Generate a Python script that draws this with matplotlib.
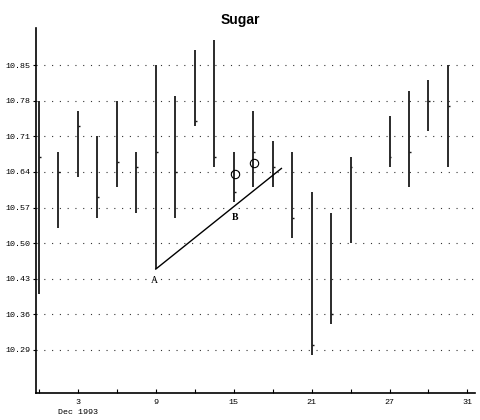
import matplotlib.pyplot as plt

# trading-day index (Dec 1993), gaps at 24 and 31
day_idx = [0, 1, 2, 3, 4, 5, 6, 7, 8, 9, 10, 11, 12, 13, 14, 15, 16, 18, 19, 20, 21]
highs = [10.78, 10.68, 10.76, 10.71, 10.78, 10.68, 10.85, 10.79, 10.88, 10.90, 10.68,
         10.76, 10.70, 10.68, 10.60, 10.56, 10.67, 10.75, 10.80, 10.82, 10.85]
lows = [10.40, 10.53, 10.63, 10.55, 10.61, 10.56, 10.45, 10.55, 10.73, 10.65, 10.58,
        10.61, 10.61, 10.51, 10.28, 10.34, 10.50, 10.65, 10.61, 10.72, 10.65]
closes = [10.67, 10.64, 10.73, 10.59, 10.66, 10.65, 10.68, 10.64, 10.74, 10.67, 10.60,
          10.68, 10.65, 10.55, 10.30, 10.36, 10.65, 10.67, 10.68, 10.78, 10.77]

tick_idx = [2, 6, 10, 14, 18, 22]
tick_labels = ["3", "9", "15", "21", "27", "31"]
y_ticks = [10.29, 10.36, 10.43, 10.50, 10.57, 10.64, 10.71, 10.78, 10.85]

trend_x = [6, 12.45]
trend_y = [10.449, 10.647]
circle_x = [10.05, 11.05]
circle_y = [10.637, 10.658]

fig = plt.figure(figsize=(4.8, 4.2), dpi=100)
ax = fig.add_axes([0.075, 0.064, 0.915, 0.869])

ax.vlines(day_idx, lows, highs, color="#1a1a1a", lw=1.3)
ax.hlines(closes, day_idx, [d + 0.1 for d in day_idx], color="#1a1a1a", lw=1.0)

ax.plot(trend_x, trend_y, color="black", lw=1.0)
ax.plot(circle_x, circle_y, "o", mfc="none", mec="black", ms=6, mew=0.8)
ax.text(5.95, 10.426, "A", family="Liberation Serif", fontsize=7, ha="center", va="center")
ax.text(10.05, 10.55, "B", family="Liberation Serif", fontsize=7, fontweight="bold",
        ha="center", va="center")

ax.set_xlim(-0.15, 22.4)
ax.set_ylim(10.205, 10.923)

ax.set_yticks(y_ticks)
ax.set_yticklabels([f"{v:.2f}" for v in y_ticks], family="Liberation Mono", fontsize=6)
ax.set_xticks(tick_idx)
ax.set_xticklabels(tick_labels, family="Liberation Mono", fontsize=6)
ax.set_xticks(range(0, 23, 2), minor=True)
ax.tick_params(axis="x", which="both", direction="in", length=3, width=0.8, pad=4)
ax.tick_params(axis="y", direction="out", length=2, width=0.8, pad=2)

ax.grid(axis="y", linestyle=(0, (1, 6)), color="#333333", lw=0.8)
for s in ["top", "right"]:
    ax.spines[s].set_visible(False)
for s in ["left", "bottom"]:
    ax.spines[s].set_linewidth(1.2)

ax.annotate("Dec 1993", xy=(2, 0), xycoords=("data", "axes fraction"),
            xytext=(0, -15), textcoords="offset points", ha="center",
            family="Liberation Mono", fontsize=6)

fig.suptitle("Sugar", x=0.5, y=0.97, fontsize=10, fontweight="bold", family="Liberation Sans")

fig.savefig("out.png", dpi=100)
